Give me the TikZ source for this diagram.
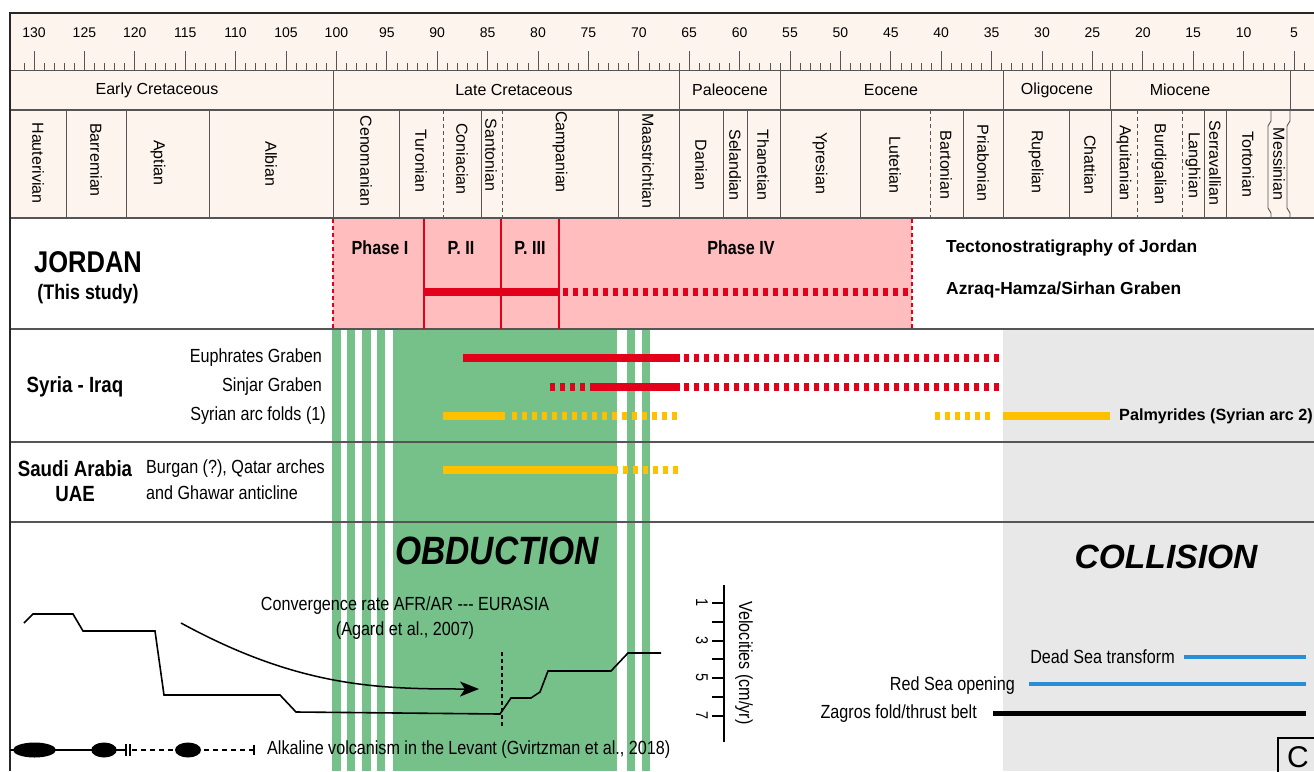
\documentclass[tikz,border=0pt]{standalone}
\usepackage{fontspec}
\setmainfont{Liberation Sans}
\newfontfamily\narrowsf[FakeStretch=0.85]{Liberation Sans}
\newcommand{\fsz}[1]{\fontsize{#1}{#1}\selectfont}
\usetikzlibrary{arrows.meta}
\definecolor{cream}{RGB}{253,244,238}
\definecolor{jorpink}{RGB}{255,189,189}
\definecolor{tecred}{RGB}{226,0,26}
\definecolor{arcorange}{RGB}{255,192,0}
\definecolor{obgreen}{RGB}{118,193,138}
\definecolor{colgray}{RGB}{232,232,232}
\definecolor{seablue}{RGB}{40,142,214}
\definecolor{gridgray}{RGB}{85,85,85}

\begin{document}
\begin{tikzpicture}[x=1pt,y=-1pt,
    rowline/.style={draw=gridgray,line width=1.3pt},
    thinline/.style={draw=gridgray,line width=0.9pt},
    stagename/.style={rotate=-90,font=\fsz{16},inner sep=0pt},
    epochname/.style={font=\fsz{16},inner sep=0pt},
    agelbl/.style={font=\fsz{14},inner sep=0pt},
    rowlbl/.style={font=\narrowsf\fsz{19},inner sep=0pt,anchor=east},
    sidelbl/.style={font=\narrowsf\fsz{19},inner sep=0pt},
    bigname/.style={font=\narrowsf\bfseries\fsz{22},inner sep=0pt},
    phasename/.style={font=\narrowsf\bfseries\fsz{19},inner sep=0pt},
    solidbar/.style={line width=8pt},
    dashbar/.style={line width=8pt,dash pattern=on 4.5pt off 5.5pt},
    seg/.style={line width=1.6pt}]
   \clip (0,0) rectangle (1314,771);
   \fill[white] (0,0) rectangle (1314,771);
   % backgrounds
   \fill[cream] (10,13) rectangle (1314,218);
   \fill[jorpink] (333,218) rectangle (912,329);
   \fill[colgray] (1003,329) rectangle (1314,771);
   \foreach \xa/\xb in {332/341,347/355,362/371,377/385,393/617,627/635,642/650}
      \fill[obgreen] (\xa,329) rectangle (\xb,771);

   % time scale
   \foreach \a in {3,...,131}
      \draw[thinline,line width=0.7pt] ({1294-(\a-5)*10.08},63) -- ({1294-(\a-5)*10.08},70);
   \foreach \a in {5,10,...,130} {
      \draw[thinline,line width=0.7pt] ({1294-(\a-5)*10.08},51) -- ({1294-(\a-5)*10.08},70);
      \node[agelbl] (age\a) at ({1294-(\a-5)*10.08},33) {\a};
   }
   \draw[thinline] (10,70) -- (1314,70);
   \draw[rowline] (10,110) -- (1314,110);
   \draw[rowline] (10,218) -- (1314,218);
   \draw[rowline] (10,329) -- (1314,329);
   \draw[rowline] (10,442) -- (1314,442);
   \draw[rowline] (10,522) -- (1314,522);
   \draw[line width=2.2pt,black!85] (10,771) -- (10,13) -- (1314,13);

   % epochs
   \foreach \x in {333,679,780,1003,1110,1290}
      \draw[thinline] (\x,70) -- (\x,110);
   \node[epochname] (ecret) at (157,90) {Early Cretaceous};
   \node[epochname] (lcret) at (514,90) {Late Cretaceous};
   \node[epochname] (paleo) at (730,90) {Paleocene};
   \node[epochname] (eoc) at (891,90) {Eocene};
   \node[epochname] (oligo) at (1057,90) {Oligocene};
   \node[epochname] (mioc) at (1180,90) {Miocene};

   % stages
   \foreach \x in {66,126,209,333,399,481,618,679,723,747,780,860,963,1003,1069,1111,1204,1226}
      \draw[thinline] (\x,110) -- (\x,218);
   \foreach \x in {443,502,930,1137,1182}
      \draw[thinline,dash pattern=on 4pt off 3pt] (\x,110) -- (\x,218);
   \draw[thinline] (1271,110) -- (1271,121) -- (1268,126) -- (1268,208) -- (1271,213) -- (1271,218);
   \draw[thinline] (1290,110) -- (1290,121) -- (1287,126) -- (1287,208) -- (1290,213) -- (1290,218);
   \node[stagename] (hau) at (38,163) {Hauterivian};
   \node[stagename] (barr) at (96,160) {Barremian};
   \node[stagename] (apt) at (158,163) {Aptian};
   \node[stagename] (alb) at (271,164) {Albian};
   \node[stagename] (cen) at (366,161) {Cenomanian};
   \node[stagename] (tur) at (421,161) {Turonian};
   \node[stagename] (con) at (462,159) {Coniacian};
   \node[stagename] (san) at (491,155) {Santonian};
   \node[stagename] (cam) at (560,152) {Campanian};
   \node[stagename] (maa) at (648,161) {Maastrichtian};
   \node[stagename] (dan) at (701,165) {Danian};
   \node[stagename] (sel) at (735,165) {Selandian};
   \node[stagename] (tha) at (763,165) {Thanetian};
   \node[stagename] (ypr) at (820,163) {Ypresian};
   \node[stagename] (lut) at (895,165) {Lutetian};
   \node[stagename] (bart) at (946,165) {Bartonian};
   \node[stagename] (pria) at (983,163) {Priabonian};
   \node[stagename] (rup) at (1036,162) {Rupelian};
   \node[stagename] (cha) at (1090,165) {Chattian};
   \node[stagename] (aqu) at (1124,163) {Aquitanian};
   \node[stagename] (bur) at (1159,164) {Burdigalian};
   \node[stagename] (lan) at (1193,165) {Langhian};
   \node[stagename] (ser) at (1215,163) {Serravallian};
   \node[stagename] (tor) at (1248,164) {Tortonian};
   \node[stagename] (mes) at (1279,164) {Messinian};

   % Jordan
   \draw[tecred,line width=2pt,dash pattern=on 4pt off 3pt] (333,219) -- (333,329) (912,219) -- (912,329);
   \draw[tecred,seg] (424,219) -- (424,329) (501,219) -- (501,329) (559,219) -- (559,329);
   \draw[tecred,solidbar] (424,292) -- (559,292);
   \draw[tecred,dashbar] (563,292) -- (912,292);
   \node[font=\narrowsf\bfseries\fsz{30},inner sep=0pt] (jordan) at (88,262) {JORDAN};
   \node[font=\narrowsf\bfseries\fsz{21},inner sep=0pt] (study) at (88,294) {(This study)};
   \node[phasename] (ph1) at (380,248) {Phase I};
   \node[phasename] (ph2) at (461,248) {P. II};
   \node[phasename] (ph3) at (530,248) {P. III};
   \node[phasename] (ph4) at (741,248) {Phase IV};
   \node[font=\bfseries\fsz{17.4},inner sep=0pt,anchor=west] (tecto) at (946,248) {Tectonostratigraphy of Jordan};
   \node[font=\bfseries\fsz{17.4},inner sep=0pt,anchor=west] (azraq) at (946,290) {Azraq-Hamza/Sirhan Graben};

   % Syria - Iraq
   \node[bigname] (syria) at (75,387) {Syria - Iraq};
   \node[rowlbl] (euph) at (322,358) {Euphrates Graben};
   \node[rowlbl] (sinj) at (322,387) {Sinjar Graben};
   \node[rowlbl] (arc1) at (326,416) {Syrian arc folds (1)};
   \draw[tecred,solidbar] (463,358) -- (680,358);
   \draw[tecred,dashbar] (684,358) -- (1003,358);
   \draw[tecred,dashbar] (550,387) -- (586,387);
   \draw[tecred,solidbar] (590,387) -- (680,387);
   \draw[tecred,dashbar] (684,387) -- (1003,387);
   \draw[arcorange,solidbar] (443,416) -- (505,416);
   \draw[arcorange,dashbar] (512,416) -- (680,416);
   \draw[arcorange,dashbar] (935,416) -- (992,416);
   \draw[arcorange,solidbar] (1003,416) -- (1110,416);
   \node[font=\bfseries\fsz{16.2},inner sep=0pt,anchor=west] (palm) at (1119,416) {Palmyrides (Syrian arc 2)};

   % Saudi Arabia
   \node[bigname] (saudi) at (75,469) {Saudi Arabia};
   \node[bigname] (uae) at (75,494) {UAE};
   \node[sidelbl,anchor=west] (burg) at (146,469) {Burgan (?), Qatar arches};
   \node[sidelbl,anchor=west] (ghaw) at (146,493) {and Ghawar anticline};
   \draw[arcorange,solidbar] (443,470) -- (618,470);
   \draw[arcorange,dashbar] (623,470) -- (680,470);

   % obduction / collision
   \node[font=\narrowsf\bfseries\itshape\fsz{39.5},inner sep=0pt] (obd) at (497,551) {OBDUCTION};
   \node[font=\bfseries\itshape\fsz{33.6},inner sep=0pt] (coll) at (1166,557) {COLLISION};

   % convergence rate
   \node[sidelbl] (convlbl) at (405,606) {Convergence rate AFR/AR --- EURASIA};
   \node[sidelbl] (agard) at (405,631) {(Agard et al., 2007)};
   \draw[line width=1.6pt] (24,623) -- (33,614) -- (73,614) -- (83,631) -- (155,631) -- (164,695)
      -- (280,695) -- (296,712) -- (500,714) -- (511,698) -- (531,698) -- (540,692)
      -- (548,671) -- (611,671) -- (628,653) -- (661,653);
   \draw[line width=2.5pt,dash pattern=on 4pt off 3pt] (502,652) -- (502,727);
   \coordinate (convS) at (181,623);
   \coordinate (convE) at (479,689);
   \draw[line width=1.5pt,-{Stealth[length=19pt,width=15pt,inset=5pt]}] (convS) .. controls (300,688) and (380,689) .. (convE);

   % velocity axis
   \draw[line width=1.2pt] (724,585) -- (724,742);
   \foreach \y in {603,622,641,659,678,697,716}
      \draw[line width=1.2pt] (712,\y) -- (724,\y);
   \node[sidelbl,rotate=-90,font=\narrowsf\fsz{17}] (v1) at (702,603) {1};
   \node[sidelbl,rotate=-90,font=\narrowsf\fsz{17}] (v3) at (702,641) {3};
   \node[sidelbl,rotate=-90,font=\narrowsf\fsz{17}] (v5) at (702,678) {5};
   \node[sidelbl,rotate=-90,font=\narrowsf\fsz{17}] (v7) at (702,716) {7};
   \node[sidelbl,rotate=-90] (veloc) at (744,663) {Velocities (cm/yr)};

   % collision events
   \node[rowlbl] (dst) at (1175,657) {Dead Sea transform};
   \node[rowlbl] (rso) at (1015,686) {Red Sea opening};
   \node[rowlbl] (zag) at (977,714) {Zagros fold/thrust belt};
   \draw[seablue,line width=4.2pt] (1184,657) -- (1306,657);
   \draw[seablue,line width=4.2pt] (1029,684) -- (1306,684);
   \draw[line width=5pt] (993,713) -- (1306,713);

   % volcanism
   \draw[line width=1.6pt] (10,750) -- (125,750);
   \fill (34.5,750) ellipse (21.5 and 7.5);
   \fill (104,750) ellipse (12.7 and 7.5);
   \draw[line width=1.4pt] (126,744) -- (126,756) (130,744) -- (130,756);
   \draw[line width=1.4pt,dash pattern=on 5pt off 4pt] (132,750) -- (254,750);
   \fill (188,750) ellipse (13 and 7.5);
   \draw[line width=1.4pt] (254,745) -- (254,755);
   \node[sidelbl,anchor=west] (volc) at (267,750) {Alkaline volcanism in the Levant (Gvirtzman et al., 2018)};

   % panel letter
   \draw[line width=1.4pt] (1278,738) rectangle (1330,790);
   \node[font=\fsz{30},inner sep=0pt] (panelC) at (1298,757) {C};
\end{tikzpicture}
\end{document}
